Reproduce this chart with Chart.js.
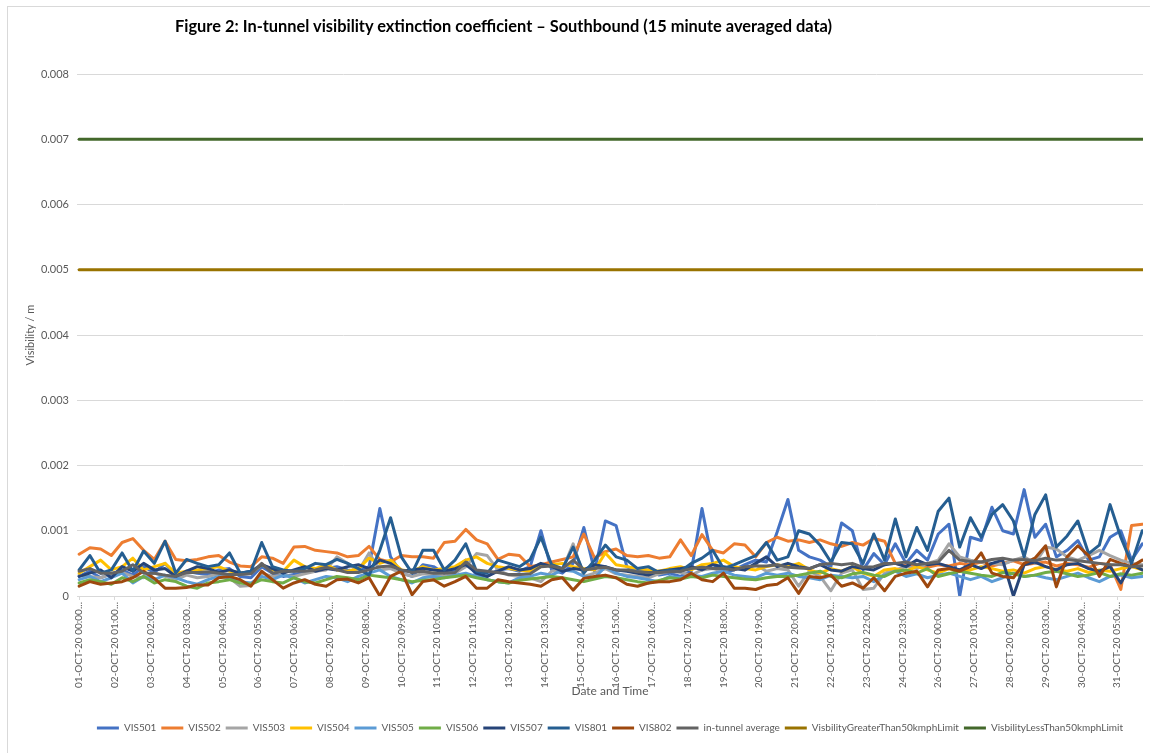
<!DOCTYPE html>
<html>
<head>
<meta charset="utf-8">
<script src="https://cdn.jsdelivr.net/npm/chart.js@4.4.0/dist/chart.umd.min.js"></script>
<style>
html,body{margin:0;padding:0;background:#fff;}
#wrap{position:relative;width:1150px;height:753px;overflow:hidden;}
#frame{position:absolute;left:7px;top:6px;width:1160px;height:760px;border:1px solid #d9d9d9;box-sizing:border-box;}
#title{position:absolute;left:175px;top:16px;font-family:Lato,'Open Sans',sans-serif;font-weight:bold;font-size:16.4px;color:#000;white-space:nowrap;}
canvas{position:absolute;left:0;top:0;}
</style>
</head>
<body>
<div id="wrap">
<div id="frame"></div>
<canvas id="c" width="1150" height="753"></canvas>
<div id="title">Figure 2: In-tunnel visibility extinction coefficient – Southbound (15 minute averaged data)</div>
</div>
<script>
// x positions are 15-minute sample numbers; values are in units of 1e-5 (per m)
const SAMPLE_STEP = 30;   // samples between the read-off values
const UNIT = 1e-5;

const tickLabels = [
 '01-OCT-20 00:00...','02-OCT-20 01:00...','03-OCT-20 02:00...','04-OCT-20 03:00...','05-OCT-20 04:00...',
 '06-OCT-20 05:00...','07-OCT-20 06:00...','08-OCT-20 07:00...','09-OCT-20 08:00...','10-OCT-20 09:00...',
 '11-OCT-20 10:00...','12-OCT-20 11:00...','13-OCT-20 12:00...','14-OCT-20 13:00...','15-OCT-20 14:00...',
 '16-OCT-20 15:00...','17-OCT-20 16:00...','18-OCT-20 17:00...','19-OCT-20 18:00...','20-OCT-20 19:00...',
 '21-OCT-20 20:00...','22-OCT-20 21:00...','23-OCT-20 22:00...','24-OCT-20 23:00...','26-OCT-20 00:00...',
 '27-OCT-20 01:00...','28-OCT-20 02:00...','29-OCT-20 03:00...','30-OCT-20 04:00...','31-OCT-20 05:00...'
];
const TICK_EVERY = 100; // samples between category labels

const vis501 = [
 30,38,28,34,40,32,45,36,50,30, 38,35,33,40,42,30,28,45,35,30,
 33,36,40,42,45,40,38,45,134,60, 35,30,48,45,35,40,55,32,30,40,
 42,38,45,100,40,35,50,105,38,115, 108,45,38,40,32,35,30,38,134,50,
 35,40,48,55,52,98,148,70,60,55, 45,112,100,40,65,48,80,50,70,55,
 95,110,0,90,85,136,100,95,163,90, 110,60,70,85,55,60,90,100,55,80
];
const vis502 = [
 64,74,72,62,82,88,70,56,84,56, 54,56,60,62,52,46,45,60,58,50,
 75,76,70,68,66,60,62,76,56,52, 62,60,60,58,82,84,102,86,80,56,
 64,62,45,48,52,56,60,95,58,68, 72,62,60,62,58,60,86,62,94,70,
 66,80,78,60,82,90,84,86,82,86, 80,76,82,78,88,84,50,46,48,44,
 48,46,50,48,52,46,50,54,48,50, 52,46,50,48,44,50,48,10,108,110
];
const vis503 = [
 32,30,28,34,36,30,28,35,30,25, 32,28,30,34,28,15,16,35,30,32,
 30,34,38,40,60,50,38,66,40,42, 35,30,34,32,30,35,45,65,62,40,
 32,30,28,22,38,40,80,30,35,42, 34,32,30,28,34,38,36,32,40,42,
 38,45,40,48,38,42,40,15,38,30, 8,35,40,10,12,35,40,45,42,50,
 55,80,60,55,52,50,48,55,60,50, 75,72,60,55,62,70,62,55,50,48
];
const vis504 = [
 35,45,55,40,45,58,40,45,50,35, 38,40,42,45,38,36,35,48,40,38,
 55,45,42,48,40,38,42,58,50,55, 40,38,45,40,42,45,55,60,50,45,
 42,40,38,45,48,50,45,42,40,66, 48,45,42,40,38,42,45,40,48,50,
 55,45,42,40,45,48,45,50,40,35, 42,38,45,35,30,40,42,38,45,40,
 35,42,38,40,45,42,38,40,35,42, 45,40,38,42,36,40,38,42,45,40
];
const vis505 = [
 25,30,22,28,35,20,30,25,32,28, 22,18,25,30,28,22,20,30,25,32,
 28,20,25,30,28,22,30,35,40,30, 25,20,28,30,28,32,35,30,25,22,
 20,28,30,35,32,40,38,30,28,45, 35,30,28,25,22,30,28,32,30,35,
 38,32,30,28,35,32,35,30,28,25, 32,30,28,30,22,32,38,30,34,28,
 32,35,30,25,30,22,28,35,30,32, 28,25,30,35,28,22,30,32,28,30
];
const vis506 = [
 20,25,22,18,28,22,30,20,25,22, 15,12,20,22,25,20,18,25,22,20,
 28,22,20,25,30,28,25,32,30,28, 25,22,24,25,28,30,32,28,25,22,
 20,24,26,28,30,28,25,22,26,30, 28,25,22,20,24,28,26,30,28,32,
 30,28,26,25,28,30,30,32,35,38, 30,28,34,36,32,30,38,40,35,42,
 30,34,38,35,32,30,36,34,30,32, 36,38,34,30,32,36,30,34,32,35
];
const vis507 = [
 30,35,40,28,45,38,50,40,42,30, 38,45,42,36,40,35,38,48,42,35,
 40,45,38,42,40,45,48,42,55,50, 38,40,42,40,38,42,48,35,30,38,
 45,40,42,50,45,38,42,40,48,45, 40,38,35,32,38,40,42,45,40,48,
 45,42,40,50,60,45,50,45,42,48, 40,38,45,42,40,48,50,45,55,48,
 50,45,40,48,42,50,55,0,48,52, 45,40,48,50,42,38,45,20,48,40
];
const vis801 = [
 40,62,35,40,66,38,69,50,84,35, 56,50,45,48,66,35,38,82,45,40,
 38,42,50,48,56,50,42,32,70,120, 60,35,70,70,40,55,80,38,35,55,
 50,45,56,90,48,42,75,35,55,78, 60,55,42,45,36,40,38,50,58,70,
 42,48,55,62,82,55,60,100,95,78, 52,82,80,50,95,55,118,60,105,70,
 130,150,75,120,90,125,140,115,60,125, 155,75,92,115,65,78,140,90,50,100
];
const vis802 = [
 15,22,18,20,22,28,38,27,12,12, 13,17,17,28,30,25,15,38,25,12,
 20,25,18,15,25,26,20,28,0,30, 38,2,22,25,15,22,30,12,12,25,
 22,20,18,15,25,28,9,27,30,32, 28,18,15,20,22,22,25,35,25,22,
 35,12,12,10,16,18,28,4,30,28, 32,15,20,12,28,8,30,35,38,14,
 40,42,38,45,66,35,30,28,50,58, 77,14,60,77,62,30,56,50,45,55
];
const tunnelAverage = [
 38,42,35,35,38,48,35,35,32,30, 36,36,37,35,33,33,34,50,35,38,
 38,38,40,44,40,36,36,40,45,46, 40,36,38,35,35,36,52,40,38,36,
 33,33,34,45,46,42,55,40,42,44, 40,40,37,36,36,37,38,42,44,42,
 42,40,45,46,46,48,44,43,42,48, 50,48,50,44,45,50,50,52,48,50,
 52,70,55,53,52,56,58,55,56,54, 58,55,56,54,52,50,48,48,45,46
];
const limitGreaterThan50 = [500, 500];  // constant limit, start and end of period
const limitLessThan50 = [700, 700];

const seriesDefs = [
 ['VIS501', vis501, '#4472C4'],
 ['VIS502', vis502, '#ED7D31'],
 ['VIS503', vis503, '#A5A5A5'],
 ['VIS504', vis504, '#FFC000'],
 ['VIS505', vis505, '#5B9BD5'],
 ['VIS506', vis506, '#70AD47'],
 ['VIS507', vis507, '#264478'],
 ['VIS801', vis801, '#255E91'],
 ['VIS802', vis802, '#9E480E'],
 ['in-tunnel average', tunnelAverage, '#636363'],
 ['VisbilityGreaterThan50kmphLimit', limitGreaterThan50, '#997300'],
 ['VisbilityLessThan50kmphLimit', limitLessThan50, '#43682B']
];
const lastSample = (vis801.length - 1) * SAMPLE_STEP;

const datasets = seriesDefs.map(([label, vals, color], idx) => {
  let pts;
  if (vals.length === 2) {
    pts = [{x: 0, y: vals[0] * UNIT}, {x: lastSample, y: vals[1] * UNIT}];
  } else {
    pts = vals.map((v, i) => ({x: i * SAMPLE_STEP, y: v * UNIT}));
  }
  return {
    label, data: pts, borderColor: color, backgroundColor: color,
    borderWidth: 3, pointRadius: 0, tension: 0,
    borderJoinStyle: 'round', borderCapStyle: 'round',
    order: seriesDefs.length - idx
  };
});

const FONT = 'Lato, "Open Sans", sans-serif';
const GREY = '#595959';

new Chart(document.getElementById('c'), {
  type: 'line',
  data: {datasets},
  options: {
    responsive: false,
    animation: false,
    layout: {padding: {left: 8, right: 7, top: 74, bottom: 10}},
    plugins: {
      legend: {
        position: 'bottom',
        fullSize: false,
        labels: {
          boxWidth: 22, boxHeight: 3, padding: 5, color: GREY,
          font: {family: FONT, size: 10},
          sort: (a, b) => a.datasetIndex - b.datasetIndex,
          generateLabels: chart => Chart.defaults.plugins.legend.labels.generateLabels(chart)
            .map(it => Object.assign(it, {lineWidth: 0}))
        }
      },
      tooltip: {enabled: false}
    },
    scales: {
      x: {
        type: 'linear', min: -6, max: 2972,
        afterBuildTicks: s => { s.ticks = tickLabels.map((_, k) => ({value: k * TICK_EVERY})); },
        afterFit: s => { s.height = 122; },
        ticks: {
          autoSkip: false, minRotation: 90, maxRotation: 90, padding: 2,
          color: GREY, font: {family: FONT, size: 10},
          callback: (v, i) => tickLabels[i]
        },
        grid: {drawOnChartArea: false, drawTicks: true, tickLength: 4, color: '#d9d9d9'},
        border: {color: '#d9d9d9'},
        title: {display: true, text: 'Date and Time', color: GREY, font: {family: FONT, size: 12}, padding: {top: 4, bottom: 20}}
      },
      y: {
        min: 0, max: 0.008,
        afterFit: s => { s.width = 69; },
        ticks: {
          stepSize: 0.001, padding: 8, color: GREY, font: {family: FONT, size: 11},
          callback: v => v === 0 ? '0' : v.toFixed(3)
        },
        grid: {color: '#d9d9d9', drawTicks: false},
        border: {display: false},
        title: {display: true, text: 'Visibility / m', color: GREY, font: {family: FONT, size: 11}, padding: {top: 16, bottom: 0}}
      }
    }
  }
});
</script>
</body>
</html>
